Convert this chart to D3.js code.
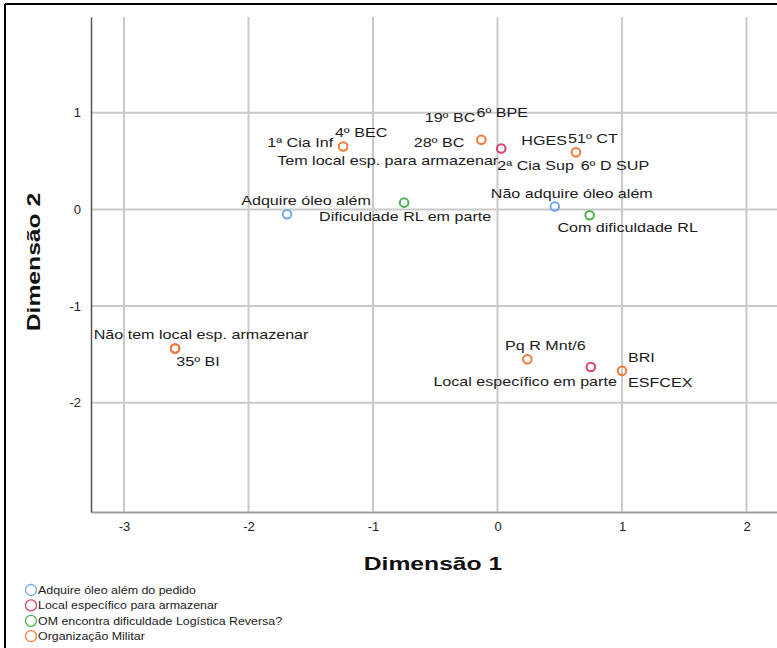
<!DOCTYPE html>
<html>
<head>
<meta charset="utf-8">
<script src="https://cdn.jsdelivr.net/npm/d3@7"></script>
<style>
  body { margin: 0; background: #fff; }
  svg { display: block; font-family: "Liberation Sans", Arial, sans-serif; }
</style>
</head>
<body>
<div id="chart"></div>
<script>
// series (variables) with their colours
const seriesNames = ["Adquire óleo além do pedido", "Local específico para armazenar",
  "OM encontra dificuldade Logística Reversa?", "Organização Militar"];
const seriesColors = ["#6fa8e8", "#d9426b", "#4caf50", "#f07c3a"];

// category points: [dim1, dim2]
const adquirePoints = [[-1.69, -0.05], [0.46, 0.03]];
const localPoints = [[0.03, 0.63], [0.75, -1.63], [-2.59, -1.44]];
const dificuldadePoints = [[-0.75, 0.07], [0.74, -0.06]];
const omPoints = [[-1.24, 0.65], [-0.13, 0.72], [0.63, 0.59], [-2.59, -1.44], [0.24, -1.55], [1.00, -1.67]];

// labels per point (some points carry several labels)
const adquireLabels = [["Adquire óleo além"], ["Não adquire óleo além"]];
const localLabels = [["Tem local esp. para armazenar"], ["Local específico em parte"], ["Não tem local esp. armazenar"]];
const dificuldadeLabels = [["Dificuldade RL em parte"], ["Com dificuldade RL"]];
const omLabels = [["1ª Cia Inf", "4º BEC"], ["19º BC", "6º BPE", "28º BC"], ["HGES", "51º CT", "2ª Cia Sup", "6º D SUP"],
  ["35º BI"], ["Pq R Mnt/6"], ["BRI", "ESFCEX"]];

const xTicks = [-3, -2, -1, 0, 1, 2];
const yTicks = [1, 0, -1, -2];

// label placement offsets (pixels from point), text-anchor
const labelOffsets = {
  "Adquire óleo além": [19, -14, "middle"],
  "Não adquire óleo além": [17, -13, "middle"],
  "Dificuldade RL em parte": [1, 14, "middle"],
  "Com dificuldade RL": [38, 12, "middle"],
  "Tem local esp. para armazenar": [-3, 12, "end"],
  "Local específico em parte": [26, 14, "end"],
  "Não tem local esp. armazenar": [26, -14, "middle"],
  "1ª Cia Inf": [-10, -4, "end"],
  "4º BEC": [18, -14, "middle"],
  "19º BC": [-6, -22, "end"],
  "6º BPE": [21, -27, "middle"],
  "28º BC": [-17, 3, "end"],
  "HGES": [-9, -12, "end"],
  "51º CT": [17, -14, "middle"],
  "2ª Cia Sup": [-2, 13, "end"],
  "6º D SUP": [39, 13, "middle"],
  "35º BI": [23, 13, "middle"],
  "Pq R Mnt/6": [18, -14, "middle"],
  "BRI": [6, -13, "start"],
  "ESFCEX": [6, 12, "start"]
};

const width = 777, height = 648;
const margin = {top: 17, right: 0, bottom: 136, left: 91};
const stretch = 1.24; // the source picture is horizontally stretched

const svg = d3.select("#chart").append("svg")
  .attr("width", width)
  .attr("height", height);

// frame
svg.append("line").attr("x1", 5).attr("x2", width).attr("y1", 4).attr("y2", 4)
  .attr("stroke", "#000").attr("stroke-width", 2);
svg.append("line").attr("x1", 5).attr("x2", 5).attr("y1", 4).attr("y2", height)
  .attr("stroke", "#000").attr("stroke-width", 2);

const x = d3.scaleLinear().domain([-3.265, 2.245]).range([margin.left, width]);
const y = d3.scaleLinear().domain([-3.13, 1.99]).range([height - margin.bottom, margin.top]);

// grid
svg.append("g")
  .selectAll("line").data(xTicks).join("line")
  .attr("x1", d => x(d)).attr("x2", d => x(d))
  .attr("y1", y.range()[1]).attr("y2", y.range()[0])
  .attr("stroke", "#c9c9c9").attr("stroke-width", 2);
svg.append("g")
  .selectAll("line").data(yTicks).join("line")
  .attr("x1", margin.left).attr("x2", width)
  .attr("y1", d => y(d)).attr("y2", d => y(d))
  .attr("stroke", "#c9c9c9").attr("stroke-width", 2);

// axes
const xAxis = d3.axisBottom(x).tickValues(xTicks).tickSize(0).tickPadding(10).tickFormat(d3.format("d"));
const yAxis = d3.axisLeft(y).tickValues(yTicks).tickSize(0).tickPadding(10).tickFormat(d3.format("d"));

svg.append("g")
  .attr("transform", `translate(0,${height - margin.bottom})`)
  .call(xAxis)
  .call(g => g.select(".domain").attr("stroke", "#a0a0a0").attr("stroke-width", 2))
  .call(g => g.selectAll("text").attr("font-size", 13).attr("fill", "#222")
    .attr("font-family", "Liberation Sans, Arial, sans-serif").text(d => d < 0 ? "-" + Math.abs(d) : d));

svg.append("g")
  .attr("transform", `translate(${margin.left},0)`)
  .call(yAxis)
  .call(g => g.select(".domain").attr("stroke", "#555").attr("stroke-width", 1.5))
  .call(g => g.selectAll("text").attr("font-size", 13).attr("fill", "#222")
    .attr("font-family", "Liberation Sans, Arial, sans-serif").text(d => d < 0 ? "-" + Math.abs(d) : d));

// axis titles
svg.append("text")
  .attr("transform", "translate(433,570) scale(1.3,1)")
  .attr("text-anchor", "middle")
  .attr("font-size", 19).attr("font-weight", "bold").attr("fill", "#111")
  .text("Dimensão 1");
svg.append("text")
  .attr("transform", "translate(40,262) rotate(-90) scale(1.3,1)")
  .attr("text-anchor", "middle")
  .attr("font-size", 19).attr("font-weight", "bold").attr("fill", "#111")
  .text("Dimensão 2");

// points and labels
const groups = [
  {points: localPoints, labels: localLabels, color: seriesColors[1]},
  {points: adquirePoints, labels: adquireLabels, color: seriesColors[0]},
  {points: dificuldadePoints, labels: dificuldadeLabels, color: seriesColors[2]},
  {points: omPoints, labels: omLabels, color: seriesColors[3]}
];

const labelLayer = svg.append("g");
groups.forEach(grp => {
  svg.append("g").selectAll("circle").data(grp.points).join("circle")
    .attr("cx", d => x(d[0])).attr("cy", d => y(d[1]))
    .attr("r", 4.3)
    .attr("fill", "none")
    .attr("stroke", grp.color).attr("stroke-width", 2);
  grp.points.forEach((p, i) => {
    grp.labels[i].forEach(t => {
      const o = labelOffsets[t];
      labelLayer.append("text")
        .attr("transform", `translate(${x(p[0]) + o[0]},${y(p[1]) + o[1]}) scale(${stretch},1)`)
        .attr("dy", "0.35em")
        .attr("text-anchor", o[2])
        .attr("font-size", 13).attr("fill", "#1a1a1a")
        .text(t);
    });
  });
});

// legend
const legend = svg.append("g").attr("transform", "translate(31,590)");
const li = legend.selectAll("g").data(seriesNames).join("g")
  .attr("transform", (d, i) => `translate(0,${i * 15.4})`);
li.append("circle").attr("r", 5.5).attr("fill", "none")
  .attr("stroke", (d, i) => seriesColors[i]).attr("stroke-width", 1.3);
li.append("text")
  .attr("transform", "translate(7,0) scale(1.08,1)")
  .attr("dy", "0.35em")
  .attr("font-size", 11.5).attr("fill", "#222")
  .text(d => d);
</script>
</body>
</html>
